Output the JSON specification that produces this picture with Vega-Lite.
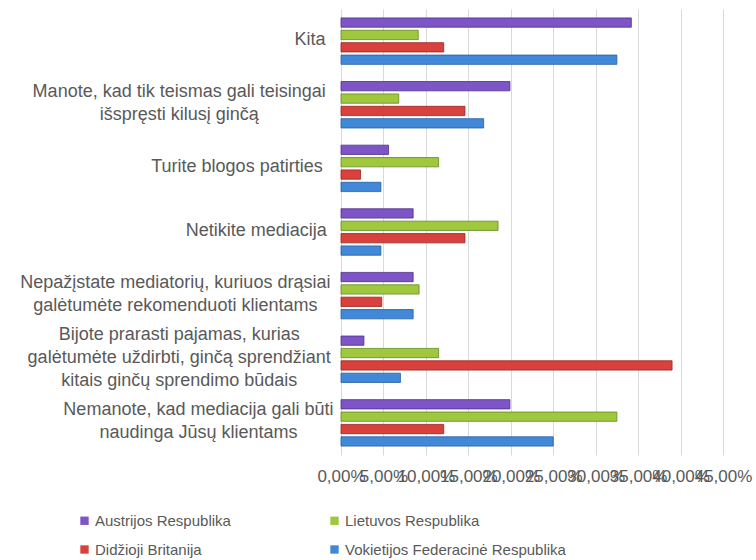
{
  "$schema": "https://vega.github.io/schema/vega-lite/v6.json",
  "autosize": {"type": "none"},
  "width": 382,
  "height": 446,
  "padding": {"left": 341, "top": 9, "right": 33, "bottom": 105},
  "background": "white",
  "config": {"view": {"stroke": null}, "font": "Liberation Sans"},
  "data": {"values": [
    {"cat": "Kita", "country": "Austrijos Respublika", "value": 0.342},
    {"cat": "Kita", "country": "Lietuvos Respublika", "value": 0.091},
    {"cat": "Kita", "country": "Didžioji Britanija", "value": 0.121},
    {"cat": "Kita", "country": "Vokietijos Federacinė Respublika", "value": 0.325},
    {"cat": "Manote, kad tik teismas gali teisingai\nišspręsti kilusį ginčą", "country": "Austrijos Respublika", "value": 0.199},
    {"cat": "Manote, kad tik teismas gali teisingai\nišspręsti kilusį ginčą", "country": "Lietuvos Respublika", "value": 0.068},
    {"cat": "Manote, kad tik teismas gali teisingai\nišspręsti kilusį ginčą", "country": "Didžioji Britanija", "value": 0.146},
    {"cat": "Manote, kad tik teismas gali teisingai\nišspręsti kilusį ginčą", "country": "Vokietijos Federacinė Respublika", "value": 0.168},
    {"cat": "Turite blogos patirties", "country": "Austrijos Respublika", "value": 0.056},
    {"cat": "Turite blogos patirties", "country": "Lietuvos Respublika", "value": 0.115},
    {"cat": "Turite blogos patirties", "country": "Didžioji Britanija", "value": 0.023},
    {"cat": "Turite blogos patirties", "country": "Vokietijos Federacinė Respublika", "value": 0.047},
    {"cat": "Netikite mediacija", "country": "Austrijos Respublika", "value": 0.085},
    {"cat": "Netikite mediacija", "country": "Lietuvos Respublika", "value": 0.185},
    {"cat": "Netikite mediacija", "country": "Didžioji Britanija", "value": 0.146},
    {"cat": "Netikite mediacija", "country": "Vokietijos Federacinė Respublika", "value": 0.047},
    {"cat": "Nepažįstate mediatorių, kuriuos drąsiai\ngalėtumėte rekomenduoti klientams", "country": "Austrijos Respublika", "value": 0.085},
    {"cat": "Nepažįstate mediatorių, kuriuos drąsiai\ngalėtumėte rekomenduoti klientams", "country": "Lietuvos Respublika", "value": 0.092},
    {"cat": "Nepažįstate mediatorių, kuriuos drąsiai\ngalėtumėte rekomenduoti klientams", "country": "Didžioji Britanija", "value": 0.048},
    {"cat": "Nepažįstate mediatorių, kuriuos drąsiai\ngalėtumėte rekomenduoti klientams", "country": "Vokietijos Federacinė Respublika", "value": 0.085},
    {"cat": "Bijote prarasti pajamas, kurias\ngalėtumėte uždirbti, ginčą sprendžiant\nkitais ginčų sprendimo būdais", "country": "Austrijos Respublika", "value": 0.027},
    {"cat": "Bijote prarasti pajamas, kurias\ngalėtumėte uždirbti, ginčą sprendžiant\nkitais ginčų sprendimo būdais", "country": "Lietuvos Respublika", "value": 0.115},
    {"cat": "Bijote prarasti pajamas, kurias\ngalėtumėte uždirbti, ginčą sprendžiant\nkitais ginčų sprendimo būdais", "country": "Didžioji Britanija", "value": 0.390},
    {"cat": "Bijote prarasti pajamas, kurias\ngalėtumėte uždirbti, ginčą sprendžiant\nkitais ginčų sprendimo būdais", "country": "Vokietijos Federacinė Respublika", "value": 0.070},
    {"cat": "Nemanote, kad mediacija gali būti\nnaudinga Jūsų klientams", "country": "Austrijos Respublika", "value": 0.199},
    {"cat": "Nemanote, kad mediacija gali būti\nnaudinga Jūsų klientams", "country": "Lietuvos Respublika", "value": 0.325},
    {"cat": "Nemanote, kad mediacija gali būti\nnaudinga Jūsų klientams", "country": "Didžioji Britanija", "value": 0.121},
    {"cat": "Nemanote, kad mediacija gali būti\nnaudinga Jūsų klientams", "country": "Vokietijos Federacinė Respublika", "value": 0.250}
  ]},
  "mark": {"type": "bar", "strokeWidth": 0.8},
  "encoding": {
    "y": {
      "field": "cat", "type": "nominal", "sort": null,
      "scale": {"paddingInner": 0.27, "paddingOuter": 0.14},
      "axis": {
        "title": null, "domain": false, "ticks": false,
        "labelExpr": "split(datum.label, '\\n')",
        "labelFontSize": 18, "labelLineHeight": 23, "labelColor": "#595959",
        "labelLimit": 400, "labelBaseline": "middle", "labelAlign": "center",
        "labelPadding": {"expr": "16 + 3.85 * max(length(split(datum.value, '\\n')[0]), length(split(datum.value, '\\n')[1] || ''), length(split(datum.value, '\\n')[2] || ''))"},
        "labelOffset": {"expr": "-(length(split(datum.value, '\\n')) - 1) * 11.5 - 1"}
      }
    },
    "yOffset": {
      "field": "country", "type": "nominal",
      "sort": ["Austrijos Respublika", "Lietuvos Respublika", "Didžioji Britanija", "Vokietijos Federacinė Respublika"],
      "scale": {"paddingInner": 0.25}
    },
    "x": {
      "field": "value", "type": "quantitative",
      "scale": {"domain": [0, 0.45], "nice": false},
      "axis": {
        "title": null, "domain": false, "ticks": false,
        "values": [0, 0.05, 0.1, 0.15, 0.2, 0.25, 0.3, 0.35, 0.4, 0.45],
        "labelExpr": "replace(format(datum.value, '.2%'), '.', ',')",
        "labelOverlap": false, "labelFontSize": 17, "labelColor": "#595959",
        "labelPadding": 13, "gridColor": "#d9d9d9", "labelFlush": false
      }
    },
    "color": {
      "field": "country", "type": "nominal",
      "scale": {
        "domain": ["Austrijos Respublika", "Lietuvos Respublika", "Didžioji Britanija", "Vokietijos Federacinė Respublika"],
        "range": ["#7d55c7", "#9fc83e", "#d9423c", "#4189d8"]
      },
      "legend": {
        "title": null, "orient": "none", "legendX": -264, "legendY": 504,
        "direction": "horizontal",
        "columns": 2, "columnPadding": 96, "rowPadding": 13,
        "symbolType": "square", "symbolSize": 70, "symbolOffset": 0, "labelOffset": 3,
        "labelFontSize": 15, "labelColor": "#595959", "labelLimit": 400,
        "symbolStrokeWidth": 0
      }
    },
    "stroke": {
      "field": "country", "type": "nominal",
      "scale": {
        "domain": ["Austrijos Respublika", "Lietuvos Respublika", "Didžioji Britanija", "Vokietijos Federacinė Respublika"],
        "range": ["#4f2f8a", "#5f8a1e", "#9a2220", "#245da0"]
      },
      "legend": null
    }
  }
}
